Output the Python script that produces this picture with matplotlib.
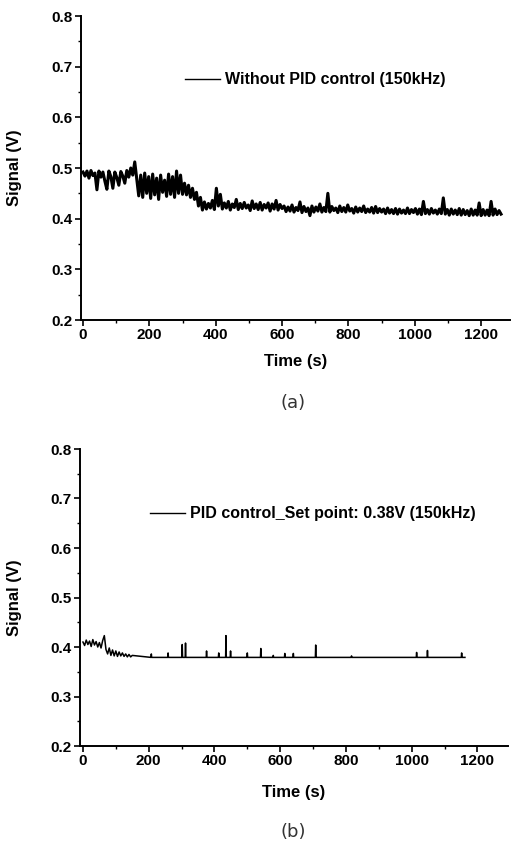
import numpy as np
import matplotlib
matplotlib.use("Agg")
import matplotlib.pyplot as plt
from matplotlib.ticker import MultipleLocator

plt.rcParams['font.family'] = ['Liberation Sans', 'DejaVu Sans']
plt.rcParams['font.weight'] = 'bold'

# (a) without PID control, sampled every 6 s from 0 to 1260 s
time_a = np.arange(0, 1261, 6)
sig_a = [
    # 0-150 s
    0.492, 0.484, 0.494, 0.480, 0.495, 0.485, 0.490, 0.457, 0.494, 0.482,
    0.492, 0.474, 0.458, 0.494, 0.483, 0.460, 0.492, 0.481, 0.466, 0.493,
    0.484, 0.470, 0.495, 0.482, 0.500, 0.486,
    # 156-300 s
    0.512, 0.478, 0.445, 0.486, 0.442, 0.490, 0.450, 0.483, 0.440, 0.488,
    0.447, 0.480, 0.438, 0.486, 0.452, 0.476, 0.444, 0.488, 0.448, 0.483,
    0.442, 0.494, 0.450, 0.486, 0.448,
    # 306-396 s
    0.470, 0.447, 0.466, 0.442, 0.460, 0.438, 0.452, 0.425, 0.442, 0.417,
    0.433, 0.419, 0.430, 0.421, 0.436, 0.418,
    # 402-600 s
    0.460, 0.425, 0.448, 0.419, 0.431, 0.421, 0.434, 0.417, 0.429, 0.422,
    0.438, 0.418, 0.430, 0.420, 0.432, 0.421, 0.427, 0.416, 0.435, 0.420,
    0.429, 0.418, 0.432, 0.417, 0.428, 0.421, 0.431, 0.415, 0.429, 0.419,
    0.436, 0.417, 0.428, 0.420,
    # 606-900 s
    0.425, 0.414, 0.423, 0.415, 0.427, 0.413, 0.422, 0.416, 0.433, 0.412,
    0.424, 0.414, 0.421, 0.406, 0.425, 0.413, 0.423, 0.415, 0.429, 0.413,
    0.422, 0.414, 0.450, 0.413, 0.424, 0.416, 0.421, 0.412, 0.425, 0.414,
    0.422, 0.413, 0.427, 0.415, 0.420, 0.411, 0.423, 0.413, 0.421, 0.414,
    0.425, 0.412, 0.419, 0.413, 0.422, 0.411, 0.424, 0.412, 0.420, 0.413,
    # 906-1260 s
    0.419, 0.410, 0.421, 0.411, 0.418, 0.410, 0.420, 0.409, 0.419, 0.411,
    0.417, 0.410, 0.421, 0.410, 0.418, 0.412, 0.420, 0.409, 0.419, 0.408,
    0.434, 0.410, 0.418, 0.409, 0.420, 0.411, 0.417, 0.409, 0.419, 0.410,
    0.441, 0.409, 0.418, 0.407, 0.419, 0.409, 0.417, 0.408, 0.420, 0.407,
    0.418, 0.408, 0.416, 0.406, 0.419, 0.407, 0.417, 0.407, 0.431, 0.406,
    0.418, 0.407, 0.417, 0.406, 0.434, 0.407, 0.419, 0.408, 0.416, 0.409,
]

# (b) PID control, early settling part (every 5 s, 0-150 s)
time_b_start = np.arange(0, 151, 5)
sig_b_start = [
    0.410, 0.403, 0.414, 0.405, 0.412, 0.401, 0.415, 0.404, 0.411, 0.400,
    0.409, 0.398, 0.413, 0.423, 0.395, 0.386, 0.398, 0.383, 0.394, 0.382,
    0.392, 0.381, 0.390, 0.382, 0.388, 0.381, 0.386, 0.380, 0.385, 0.380,
    0.383,
]
base_b = 0.379
spike_t = [208, 259, 302, 312, 376, 413, 435, 449, 500, 541, 579, 614, 640,
           708, 817, 1015, 1048, 1152]
spike_v = [0.386, 0.388, 0.405, 0.408, 0.392, 0.388, 0.423, 0.392, 0.388,
           0.397, 0.383, 0.387, 0.387, 0.404, 0.382, 0.389, 0.393, 0.388]
end_b = 1162

time_b = list(time_b_start)
sig_b = list(sig_b_start)
for t, v in zip(spike_t, spike_v):
    time_b += [t - 1, t, t + 1]
    sig_b += [base_b, v, base_b]
time_b.append(end_b)
sig_b.append(base_b)

W, H = 513, 847
fig = plt.figure(figsize=(W / 100, H / 100), dpi=100)

ax1 = fig.add_axes([81 / W, 1 - 320 / H, 429 / W, 304 / H])
ax2 = fig.add_axes([80 / W, 1 - 746 / H, 428 / W, 297 / H])


def style(ax, xlim, xlab_y, ylab_x):
    ax.set_xlim(*xlim)
    ax.set_ylim(0.2, 0.8)
    for s in ['top', 'right']:
        ax.spines[s].set_visible(False)
    for s in ['left', 'bottom']:
        ax.spines[s].set_linewidth(1.4)
    ax.xaxis.set_major_locator(MultipleLocator(200))
    ax.xaxis.set_minor_locator(MultipleLocator(100))
    ax.yaxis.set_major_locator(MultipleLocator(0.1))
    ax.yaxis.set_minor_locator(MultipleLocator(0.05))
    ax.tick_params(which='major', direction='out', length=4, width=1.2,
                   labelsize=11, pad=2)
    ax.tick_params(which='minor', direction='out', length=2, width=1)
    for lab in ax.get_xticklabels() + ax.get_yticklabels():
        lab.set_fontweight('bold')
    ax.set_xlabel('Time (s)', fontsize=12, fontweight='bold', va='center')
    ax.set_ylabel('Signal (V)', fontsize=12, fontweight='bold', va='center')
    ax.xaxis.set_label_coords(0.5, xlab_y)
    ax.yaxis.set_label_coords(ylab_x, 0.5)


ax1.plot(time_a, sig_a, color='black', lw=2.2,
         label='Without PID control (150kHz)')
style(ax1, (-6, 1287), -0.138, -0.154)
leg1 = ax1.legend(loc='upper left', bbox_to_anchor=(0.208, 0.862),
                  frameon=False, handlelength=2.2, handletextpad=0.3,
                  prop={'weight': 'bold', 'size': 11.5})
for h in leg1.get_lines():
    h.set_linewidth(1.0)

ax2.plot(time_b, sig_b, color='black', lw=1.1,
         label='PID control_Set point: 0.38V (150kHz)')
style(ax2, (-9, 1293), -0.155, -0.154)
leg2 = ax2.legend(loc='upper left', bbox_to_anchor=(0.13, 0.855),
                  frameon=False, handlelength=2.2, handletextpad=0.3,
                  prop={'weight': 'bold', 'size': 11.5})
for h in leg2.get_lines():
    h.set_linewidth(1.0)

fig.text(293 / W, 1 - 403 / H, '(a)', ha='center', va='center',
         fontsize=13, fontweight='normal', color='#333333',
         family=['DejaVu Sans'])
fig.text(293 / W, 1 - 832 / H, '(b)', ha='center', va='center',
         fontsize=13, fontweight='normal', color='#333333',
         family=['DejaVu Sans'])

fig.savefig('out.png', dpi=100)
